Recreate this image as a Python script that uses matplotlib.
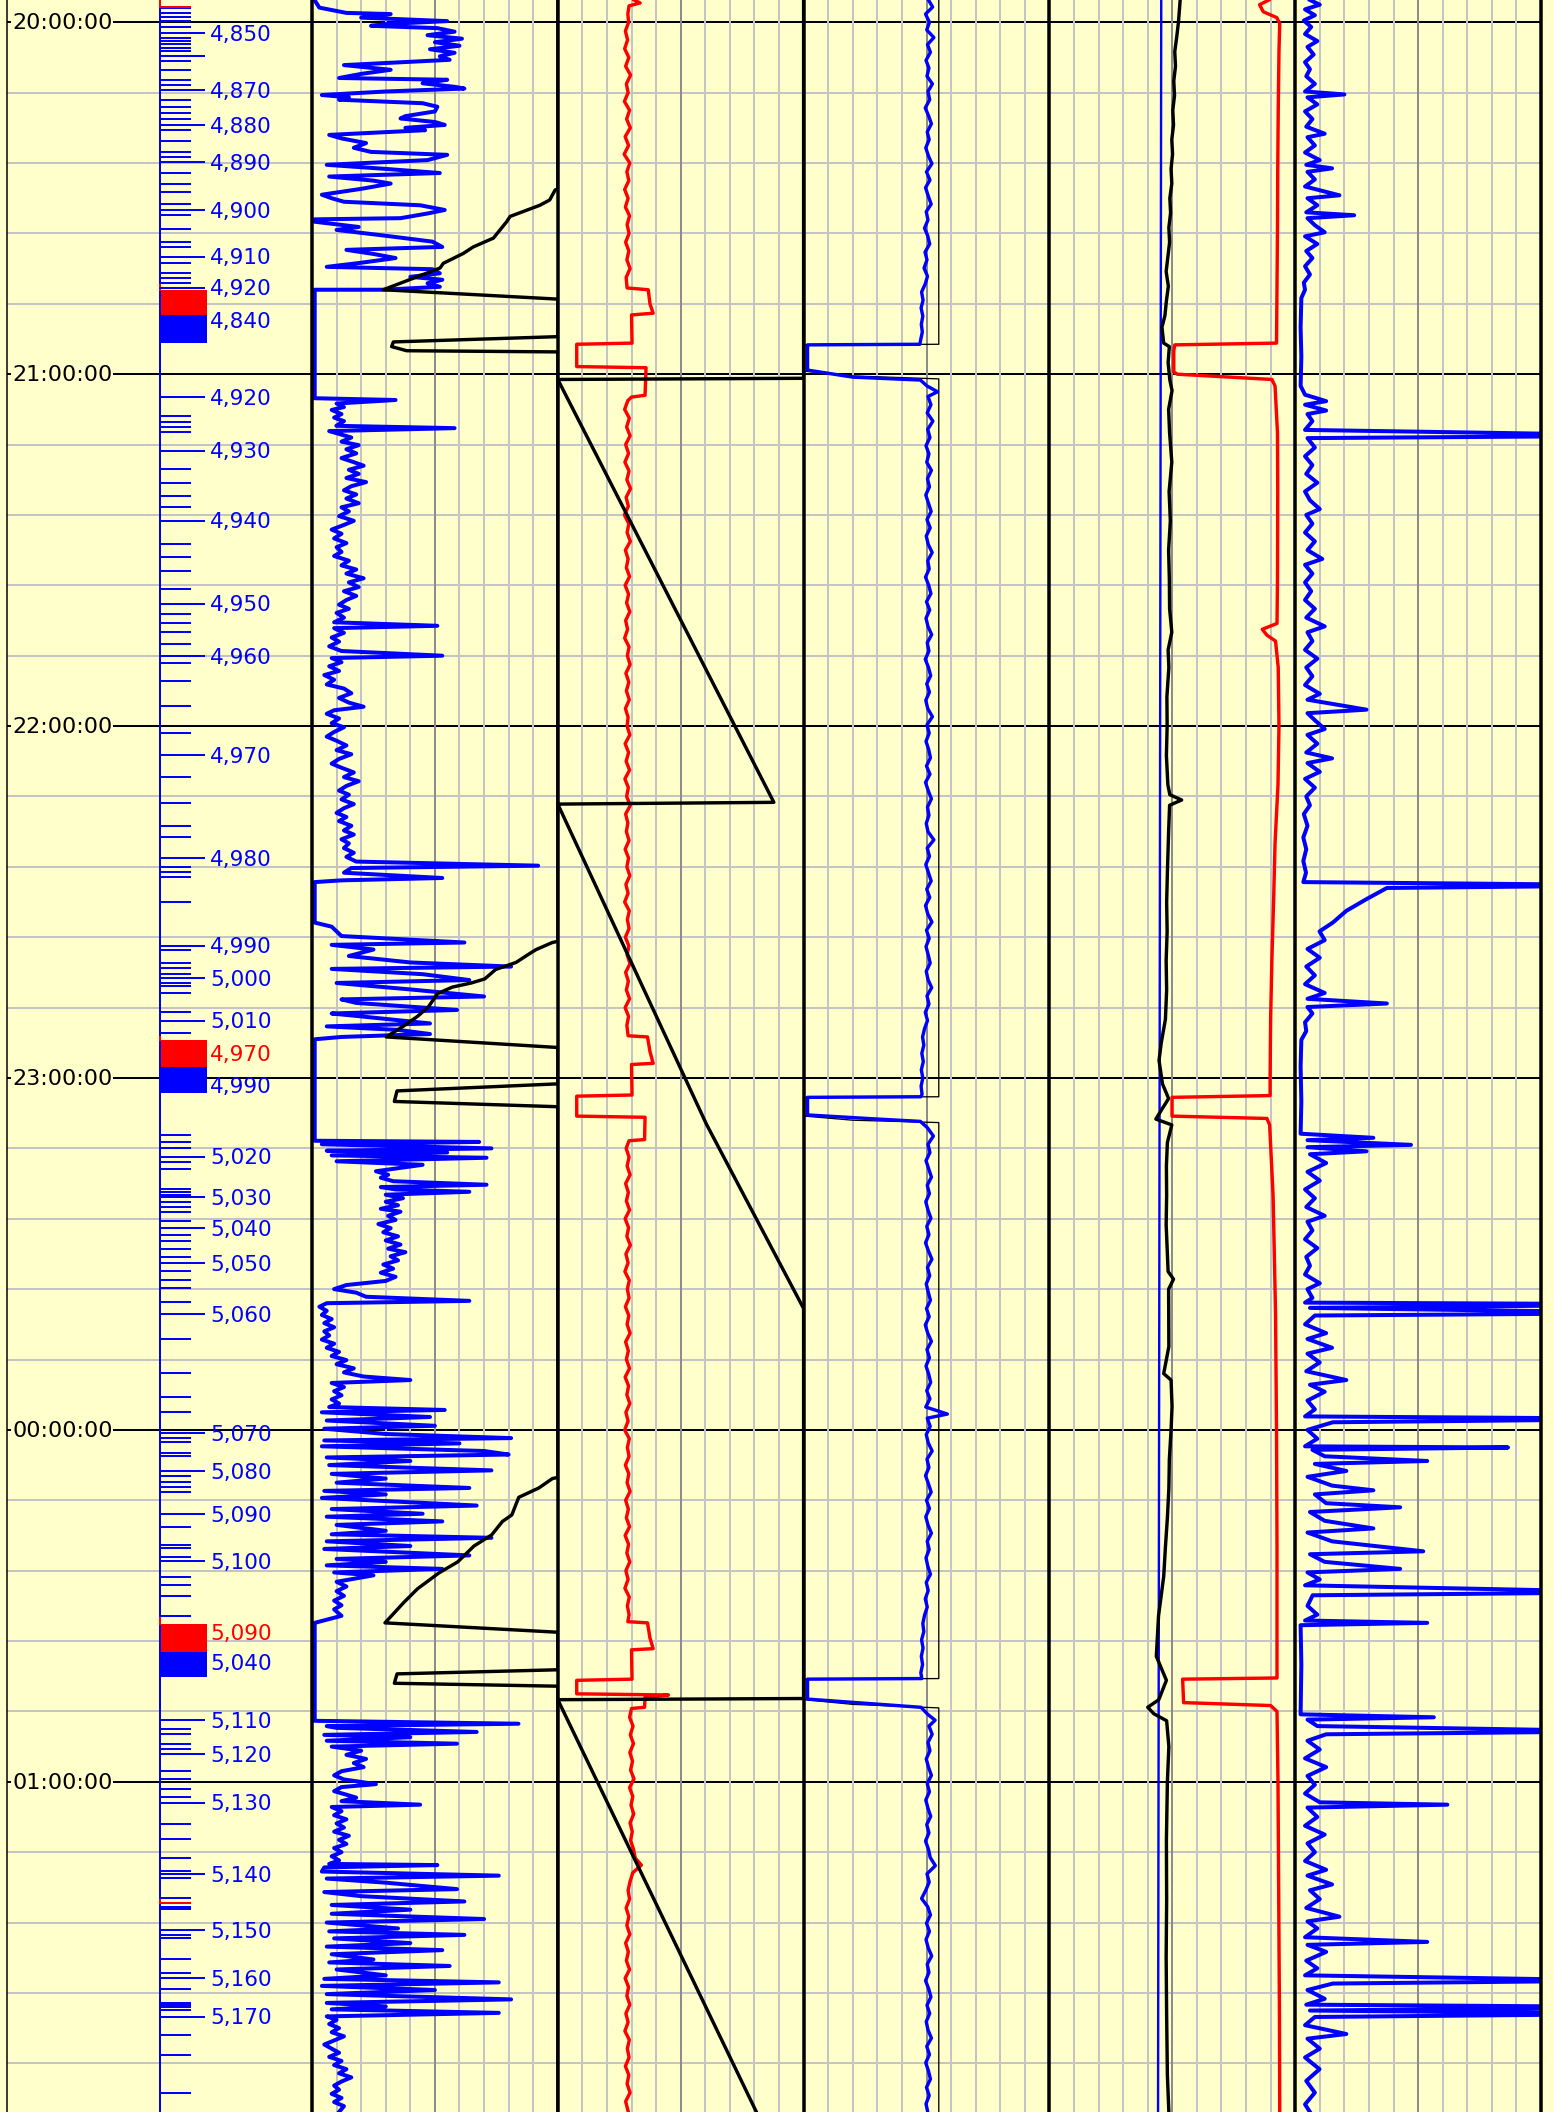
import numpy as np
import matplotlib.pyplot as plt
from matplotlib.patches import Rectangle

# ---- layout (pixels) -------------------------------------------------------
W, H = 1554, 2112
BG = '#ffffcc'
T_TOP, T_BOT = -3.8, 356.3          # minutes after 20:00 at top / bottom
TRACK_X = [312, 557.8, 803.6, 1049.4, 1295.2, 1541]

# ---- time axis -------------------------------------------------------------
hour_min = [0, 60, 120, 180, 240, 300]
hour_lbl = ['20:00:00', '21:00:00', '22:00:00', '23:00:00', '00:00:00', '01:00:00']

# ---- depth track -----------------------------------------------------------
foot_ticks = [-2.39, -1.64, -0.85, -0.17, 0.75, 2.73, 3.19, 3.75, 4.33, 4.89, 6.55, 8.18,
              9.84, 10.74, 13.25, 14.49, 15.52, 16.54, 18.36, 20.24, 22.17, 22.92, 25.69,
              27.62, 28.88, 30.98, 32.86, 35.19, 37.51, 38.36, 41.09, 42.69, 43.55, 44.40,
              67.13, 68.1, 68.95, 69.8, 76.21, 78.5, 80.77, 82.69, 88.95, 91.17, 93.5, 96.57,
              100.84, 102.37, 104.01, 106.0, 109.19, 112.36, 116.57, 121.23, 128.63, 133.17,
              137.04, 138.93, 144.07, 144.93, 145.78, 150.04, 158.18, 160.44, 161.3, 162.32,
              163.75, 164.31, 165.46, 168.7, 172.28,
              189.72, 190.86, 191.99, 194.27, 195.57, 198.98, 199.49, 199.95, 201.09, 201.94,
              202.9, 204.33, 206.77, 207.79, 209.21, 210.47, 212.86, 214.44, 215.86, 218.24,
              224.55, 230.35, 234.34, 236.9, 241.33, 242.01, 243.99, 244.45, 247.86, 248.83,
              249.68, 250.54, 256.5, 259.62, 260.19, 261.62, 265.13, 266.45, 268.32, 271.73,
              291.05, 291.85, 293.56, 294.46, 298.11, 299.57, 301.28, 302.54, 307.25, 309.8,
              313.04, 315.16, 316.45, 319.76, 321.3, 321.74, 326.12, 326.69, 330.27, 332.66,
              335.38, 337.66, 338.11, 338.45, 338.91, 343.17, 346.58, 353.11]
ten_ft_min = [1.88, 5.69, 11.54, 17.51, 23.87, 32.0, 39.97, 45.25, 63.9, 73.04, 84.98,
              99.13, 108.05, 124.93, 142.54, 157.44, 163.0, 170.23, 193.42, 200.34, 205.58,
              211.59, 220.24, 240.58, 247.0, 254.39, 262.35, 289.5, 295.31, 303.56, 315.72,
              325.27, 333.5, 340.05]
ten_ft_lbl = ['4,850', '', '4,870', '4,880', '4,890', '4,900', '4,910', '4,920', '4,920',
              '4,930', '4,940', '4,950', '4,960', '4,970', '4,980', '4,990', '5,000', '5,010',
              '5,020', '5,030', '5,040', '5,050', '5,060', '5,070', '5,080', '5,090', '5,100',
              '5,110', '5,120', '5,130', '5,140', '5,150', '5,160', '5,170']
red_ticks = [-2.66, 320.61]
red_line_spans = [(-3.8, -2.66), (44.4, 45.64), (173.0, 173.52), (271.73, 273.15), (319.76, 320.61)]
trip_up = [(45.64, 49.9), (173.52, 178.18), (273.15, 277.82)]
trip_down = [(49.9, 54.63), (178.18, 182.5), (277.82, 282.18)]
trip_lbl_min = [50.8, 175.8, 181.2, 274.5, 279.6]
trip_lbl = ['4,840', '4,970', '4,990', '5,090', '5,040']
trip_lbl_col = ['blue', 'red', 'blue', 'red', 'blue']

# ---- track 1 ---------------------------------------------------------------
t1_blue = [(-3.8, 1), (-2.5, 3), (-1.6, 14), (-1.4, 32), (-0.8, 20), (-0.2, 55), (0.3, 30),
           (0.6, 24), (1.0, 51), (1.6, 58), (2.2, 47), (2.8, 61), (3.4, 50), (4.0, 60), (4.6, 48),
           (5.2, 58), (5.8, 52), (6.4, 56), (7.3, 13), (7.8, 25), (8.1, 32), (8.8, 20), (9.5, 11),
           (9.8, 55), (10.4, 45), (11.0, 58), (11.3, 62), (11.8, 30), (12.4, 4), (12.8, 15),
           (13.2, 11), (13.8, 45), (14.4, 51), (15.2, 50), (16.0, 38), (16.4, 36), (17.0, 50),
           (17.5, 54), (18.0, 38), (18.4, 46), (19.2, 7), (19.8, 12), (20.6, 22), (21.4, 17),
           (22.1, 24), (22.6, 55), (23.5, 47), (24.3, 6), (25.0, 30), (25.7, 52), (26.3, 7),
           (27.0, 25), (27.5, 32), (28.4, 20), (29.4, 4), (30.0, 8), (30.6, 13), (31.2, 44),
           (32.0, 54), (32.6, 47), (33.4, 36), (33.6, 1), (34.0, 1), (34.9, 19), (35.4, 10),
           (36.4, 30), (37.4, 49), (38.3, 53), (38.8, 14), (39.5, 25), (40.2, 34), (41.0, 20),
           (41.7, 6), (42.1, 49), (42.8, 52), (43.4, 40), (43.9, 53), (44.5, 47), (45.1, 52),
           (45.6, 29), (45.6, 1.1), (64.1, 1.1), (64.4, 34), (65.0, 10), (65.6, 13), (66.1, 8),
           (66.8, 12), (67.4, 9), (68.0, 13), (68.8, 9.9), (69.2, 58), (69.7, 7), (70.3, 12),
           (70.8, 16), (71.5, 12), (72.1, 19), (72.8, 14), (73.5, 18), (74.3, 12), (75.0, 17),
           (75.6, 21), (76.3, 15), (77.0, 19), (77.7, 14), (78.4, 22), (79.1, 16), (79.8, 13),
           (80.5, 18), (81.2, 14), (82.0, 19), (82.7, 12), (83.4, 15), (84.2, 11), (85.0, 17),
           (85.7, 13), (86.5, 8), (87.2, 12), (88.0, 9), (88.8, 14), (89.5, 10), (90.3, 12),
           (91.0, 9), (91.8, 15), (92.6, 12), (93.3, 18), (94.0, 14), (94.8, 21), (95.5, 15),
           (96.3, 19), (97.0, 13), (97.8, 18), (98.5, 14), (99.3, 11), (100.0, 15), (100.7, 10),
           (101.5, 13), (102.3, 9), (102.9, 51), (103.3, 9), (104.1, 13), (104.9, 8), (105.6, 11),
           (106.4, 7), (107.2, 12), (108.0, 53), (108.4, 8), (109.1, 12), (109.8, 7), (110.6, 11),
           (111.3, 5), (112.1, 9), (112.9, 6), (113.6, 13), (114.4, 16), (115.2, 11), (116.0, 15),
           (116.7, 21), (117.3, 9), (117.9, 6), (118.7, 11), (119.5, 8), (120.2, 13), (121.0, 9),
           (121.8, 6), (122.5, 10), (123.3, 14), (124.1, 10), (124.8, 16), (125.6, 11), (126.4, 8),
           (127.1, 12), (127.9, 17), (128.7, 13), (129.4, 19), (130.2, 14), (131.0, 11),
           (131.7, 15), (132.5, 12), (133.3, 17), (134.0, 13), (134.8, 10), (135.5, 14),
           (136.2, 11), (137.0, 16), (137.8, 13), (138.5, 17), (139.3, 12), (140.0, 15),
           (140.8, 13), (141.6, 17), (142.3, 14), (143.1, 18), (143.8, 92), (144.2, 16),
           (145.0, 13), (145.9, 53), (146.3, 12), (146.6, 1.1), (153.5, 1.1), (154.2, 8),
           (155.8, 12), (156.9, 62), (157.3, 8), (158.1, 25), (159.2, 15), (160.3, 40), (161.0, 81),
           (161.4, 8), (162.3, 45), (163.3, 64), (163.8, 10), (164.9, 40), (166.1, 70), (166.6, 12),
           (167.2, 18), (168.4, 59), (169.0, 8), (169.5, 20), (170.7, 48), (171.2, 6), (171.8, 35),
           (172.5, 48), (173.0, 12), (173.4, 1.1), (190.7, 1.1), (190.9, 68), (191.3, 4),
           (192.0, 73), (192.4, 6), (192.7, 55), (193.2, 8), (193.6, 71), (194.2, 10), (194.8, 45),
           (195.9, 26), (196.5, 31), (197.0, 28), (197.6, 33), (198.2, 71), (198.6, 28),
           (199.0, 34), (199.4, 64), (199.9, 30), (200.5, 37), (201.1, 30), (201.7, 35),
           (202.3, 28), (202.8, 36), (203.5, 31), (204.2, 34), (204.9, 27), (205.6, 32),
           (206.3, 29), (207.0, 35), (207.7, 30), (208.4, 36), (209.1, 31), (209.7, 38),
           (210.4, 32), (211.1, 35), (211.8, 29), (212.5, 33), (213.2, 28), (213.9, 34),
           (214.6, 30), (215.3, 14), (216.0, 9), (216.6, 18), (217.3, 22), (218.0, 64), (218.4, 6),
           (219.0, 3), (219.7, 6), (220.4, 4), (221.1, 8), (221.8, 5), (222.5, 9), (223.2, 5),
           (223.9, 7), (224.6, 4), (225.3, 9), (226.0, 6), (226.7, 11), (227.4, 8), (228.1, 14),
           (228.8, 10), (229.5, 17), (230.2, 13), (230.9, 21), (231.5, 40), (232.0, 8), (232.7, 13),
           (233.4, 9), (234.1, 12), (234.8, 8), (235.5, 11), (236.1, 7), (236.6, 54), (237.0, 4),
           (237.8, 48), (238.4, 6), (239.3, 50), (239.8, 5), (240.7, 30), (241.4, 81), (241.8, 5),
           (242.3, 60), (242.8, 4), (243.6, 70), (244.2, 80), (244.7, 6), (245.3, 40), (246.0, 7),
           (246.9, 73), (247.5, 8), (248.3, 30), (249.0, 10), (249.9, 64), (250.4, 5), (251.0, 30),
           (251.6, 4), (252.9, 67), (253.5, 8), (254.3, 45), (254.8, 6), (255.6, 53), (256.2, 10),
           (257.2, 30), (257.8, 8), (258.4, 73), (259.0, 6), (259.8, 40), (260.3, 5), (261.4, 64),
           (262.0, 10), (262.5, 30), (263.1, 6), (263.7, 53), (264.3, 9), (264.8, 25), (265.9, 10),
           (266.7, 14), (267.5, 10), (268.3, 13), (269.1, 9), (269.9, 12), (270.6, 9), (271.7, 12),
           (272.9, 1.1), (289.6, 1.1), (290.1, 84), (290.5, 6), (290.8, 10), (291.5, 67), (292.0, 5),
           (292.4, 40), (293.0, 6), (293.5, 59), (294.0, 8), (294.7, 20), (295.4, 14), (296.1, 22),
           (296.8, 17), (297.5, 21), (298.2, 12), (298.9, 9), (299.6, 13), (300.4, 26), (300.9, 12),
           (301.6, 9), (302.2, 14), (302.7, 18), (303.3, 12), (303.9, 44), (304.3, 8), (305.0, 12),
           (305.7, 9), (306.4, 14), (307.1, 10), (307.8, 13), (308.5, 9), (309.2, 15), (309.9, 11),
           (310.6, 14), (311.3, 9), (312.0, 12), (312.7, 8), (313.4, 11), (314.0, 7), (314.2, 51),
           (314.6, 5), (315.3, 4), (316.0, 76), (316.5, 6), (317.2, 30), (318.3, 59), (318.8, 5),
           (319.5, 20), (320.4, 62), (321.0, 8), (321.8, 40), (322.5, 8), (323.4, 70), (324.0, 6),
           (325.0, 35), (325.5, 7), (326.1, 62), (326.7, 9), (327.5, 40), (328.1, 6), (328.7, 53),
           (329.4, 8), (330.3, 25), (330.8, 7), (331.4, 56), (332.0, 10), (333.0, 30), (333.6, 5),
           (334.2, 76), (334.8, 4), (335.5, 50), (336.2, 6), (337.1, 81), (337.7, 6), (338.3, 30),
           (338.8, 8), (339.4, 76), (340.0, 6), (340.6, 10), (341.3, 7), (342.0, 11), (342.7, 8),
           (343.4, 13), (344.1, 9), (344.8, 5), (345.5, 8), (346.2, 11), (346.9, 7), (347.6, 12),
           (348.3, 9), (349.0, 14), (349.7, 11), (350.4, 16), (351.1, 12), (351.8, 9), (352.5, 11),
           (353.2, 8), (353.9, 12), (354.6, 9), (355.3, 13), (356.3, 11)]
t1_black = [(-3.8, 100), (28.4, 100), (28.6, 98.9), (30.3, 96.7), (31.2, 92.7), (33.1, 80.6),
            (34.0, 79.2), (36.8, 73.8), (38.3, 65.6), (39.4, 61.6), (41.1, 53.4), (41.9, 52.1),
            (45.6, 29.0), (47.2, 100), (53.6, 100), (54.5, 33.1), (55.3, 32.4), (56.0, 38.5),
            (56.2, 100), (156.7, 100), (156.9, 97.8), (158.1, 91.2), (158.8, 88.5), (160.3, 83.0),
            (161.5, 74.7), (163.1, 70.3), (163.8, 64.8), (164.5, 57.1), (165.6, 51.1),
            (167.9, 47.3), (169.5, 42.9), (171.1, 37.4), (173.0, 30.2), (174.8, 100), (181.0, 100),
            (182.2, 34.6), (184.0, 33.5), (184.9, 100), (248.1, 100), (248.3, 97.8), (249.9, 92.3),
            (251.5, 84.1), (254.5, 81.3), (255.6, 77.5), (257.9, 73.1), (259.8, 65.9),
            (262.5, 59.3), (264.4, 51.6), (267.1, 42.9), (269.4, 37.4), (272.9, 29.7),
            (274.5, 100), (280.9, 100), (281.6, 34.6), (283.2, 33.5), (283.7, 100), (356.3, 100)]

# ---- track 2 ---------------------------------------------------------------
t2_red = [(-3.8, 31), (-3.3, 33.5), (-2.8, 29), (-1.5, 28.5), (0, 28.8), (1.5, 27.5), (3, 28.4),
          (4.5, 27.2), (6, 28.9), (7.5, 27.6), (9, 29.6), (10.5, 27.9), (12, 28.6), (13.5, 27.1),
          (15, 29.2), (16.5, 28.0), (18, 29.5), (19.5, 27.4), (21, 28.8), (22.5, 27.0), (24, 29.3),
          (25.5, 28.1), (27, 28.9), (28.5, 27.2), (30, 28.6), (31.5, 27.5), (33, 29.2), (34.5, 28.2),
          (36, 29.0), (37.5, 27.6), (39, 28.9), (40.5, 28.1), (42, 29.4), (43.5, 27.8), (45.3, 28.2),
          (45.6, 36.8), (48, 37.5), (49.6, 38.8), (49.9, 30.0), (54.7, 30.2), (54.9, 7.7),
          (58.7, 7.7), (58.9, 35.9), (63.6, 35.5), (63.9, 30), (64.5, 28.5), (66, 27.2),
          (67.5, 29.1), (69, 28.0), (70.5, 29.4), (72, 27.6), (73.5, 28.8), (75, 27.3), (76.5, 29.0),
          (78, 28.1), (79.5, 29.6), (81, 27.8), (82.5, 28.7), (84, 27.1), (85.5, 28.9), (87, 28.2),
          (88.5, 29.5), (90, 27.5), (91.5, 28.6), (93, 27.9), (94.5, 29.2), (96, 27.4), (97.5, 28.8),
          (99, 28.0), (100.5, 29.3), (102, 27.6), (103.5, 28.4), (105, 27.2), (106.5, 29.0),
          (108, 28.3), (109.5, 29.4), (111, 27.7), (112.5, 28.9), (114, 27.9), (115.5, 29.1),
          (117, 27.5), (118.5, 28.6), (120, 28.2), (121.5, 29.3), (123, 27.4), (124.5, 28.8),
          (126, 27.8), (127.5, 29.2), (129, 27.3), (130.5, 28.7), (132, 28.0), (133.5, 29.5),
          (135, 27.6), (136.5, 28.5), (138, 27.9), (139.5, 29.0), (141, 27.4), (142.5, 28.8),
          (144, 28.1), (145.5, 29.3), (147, 27.7), (148.5, 28.6), (150, 27.2), (151.5, 29.1),
          (153, 28.3), (154.5, 29.0), (156, 27.5), (157.5, 28.9), (159, 28.2), (160.5, 29.4),
          (162, 27.6), (163.5, 28.7), (165, 27.9), (166.5, 29.2), (168, 27.4), (169.5, 28.8),
          (171, 28.1), (172.8, 28.6), (173.0, 36.5), (175.5, 37.5), (177.5, 38.8), (177.7, 30),
          (182.9, 30.2), (183.1, 7.7), (186.5, 7.7), (186.7, 35.5), (190.5, 35.3), (190.7, 29),
          (192, 27.8), (193.5, 29.0), (195, 28.2), (196.5, 29.4), (198, 27.6), (199.5, 28.7),
          (201, 27.9), (202.5, 29.2), (204, 27.4), (205.5, 28.8), (207, 28.1), (208.5, 29.5),
          (210, 27.7), (211.5, 28.6), (213, 27.3), (214.5, 29.1), (216, 28.3), (217.5, 29.0),
          (219, 27.5), (220.5, 28.9), (222, 28.2), (223.5, 29.4), (225, 27.6), (226.5, 28.7),
          (228, 27.9), (229.5, 29.2), (231, 27.4), (232.5, 28.8), (234, 28.1), (235.5, 29.3),
          (237, 27.7), (238.5, 28.6), (240, 27.2), (241.5, 29.1), (243, 28.3), (244.5, 29.0),
          (246, 27.5), (247.5, 28.9), (249, 28.2), (250.5, 29.4), (252, 27.6), (253.5, 28.7),
          (255, 27.9), (256.5, 29.2), (258, 27.4), (259.5, 28.8), (261, 28.1), (262.5, 29.3),
          (264, 27.7), (265.5, 28.6), (267, 27.3), (268.5, 29.1), (270, 28.3), (271.5, 29.0),
          (272.7, 28.5), (272.9, 36.5), (275.5, 37.5), (277.3, 38.8), (277.5, 30), (282.5, 30.2),
          (282.7, 7.7), (285.0, 7.7), (285.2, 45), (285.6, 35.5), (287.3, 35.3), (287.5, 30),
          (289, 29.2), (290.5, 30.6), (292, 29.5), (293.5, 30.8), (295, 29.3), (296.5, 30.4),
          (298, 29.6), (299.5, 31.0), (301, 29.2), (302.5, 30.5), (304, 29.8), (305.5, 30.9),
          (307, 29.4), (308.5, 30.3), (310, 29.6), (311.5, 30.8), (313, 31.5), (314.2, 34.0),
          (315.5, 30.5), (317, 29.4), (318.5, 28.6), (320, 29.2), (321.5, 27.8), (323, 28.9),
          (324.5, 28.1), (326, 29.3), (327.5, 27.6), (329, 28.7), (330.5, 27.9), (332, 29.2),
          (333.5, 27.4), (335, 28.8), (336.5, 28.1), (338, 29.3), (339.5, 27.7), (341, 28.6),
          (342.5, 27.3), (344, 29.1), (345.5, 28.3), (347, 29.0), (348.5, 27.5), (350, 28.9),
          (351.5, 28.2), (353, 29.4), (354.5, 27.6), (356.3, 28.7)]
t2_black = [(-3.8, 100), (60.7, 100), (60.9, 0), (133.0, 87.9), (133.3, 0), (187.9, 60.5),
            (219.3, 100), (285.8, 100), (286.0, 0), (356.3, 80.8)]

# ---- track 3 ---------------------------------------------------------------
t3_blue = [(-3.8, 50.8), (-2.6, 52.5), (-1.4, 49.6), (0.0, 51.2), (1.3, 50.1), (2.6, 53.0),
           (3.8, 50.4), (5.1, 51.6), (6.5, 49.8), (7.8, 51.0), (9.2, 50.2), (10.5, 52.4),
           (11.8, 50.6), (13.2, 51.3), (14.6, 49.5), (16.0, 50.9), (17.3, 52.0), (18.7, 50.3),
           (20.0, 51.1), (21.4, 49.7), (22.8, 50.8), (24.1, 52.2), (25.5, 50.0), (26.9, 51.4),
           (28.2, 49.6), (29.6, 50.7), (31.0, 51.9), (32.3, 49.9), (33.7, 50.6), (35.1, 49.2),
           (36.4, 50.5), (37.8, 51.3), (39.2, 49.4), (40.5, 50.2), (41.9, 49.0), (43.3, 50.4),
           (44.6, 49.5), (46.0, 48.0), (47.4, 48.6), (48.7, 47.8), (50.1, 48.5), (51.5, 47.9),
           (52.8, 48.3), (54.2, 47.6), (54.9, 47.3), (55.0, 1.6), (59.3, 1.6), (60.5, 20.0),
           (61.0, 47.5), (62.0, 50.2), (63.0, 54.5), (63.8, 50.6), (65.2, 51.8), (66.6, 50.3),
           (68.0, 52.6), (69.4, 50.5), (70.8, 51.4), (72.2, 49.8), (73.6, 51.0), (75.0, 50.1),
           (76.4, 52.0), (77.8, 50.4), (79.2, 51.2), (80.6, 49.7), (82.0, 50.8), (83.4, 51.9),
           (84.8, 50.2), (86.2, 51.5), (87.6, 49.9), (89.0, 50.7), (90.4, 52.3), (91.8, 50.5),
           (93.2, 51.1), (94.6, 49.6), (96.0, 50.9), (97.4, 51.8), (98.8, 50.0), (100.2, 51.3),
           (101.6, 49.8), (103.0, 50.6), (104.4, 52.1), (105.8, 50.3), (107.2, 51.0), (108.6, 49.5),
           (110.0, 50.8), (111.4, 51.7), (112.8, 50.1), (114.2, 51.2), (115.6, 49.7), (117.0, 50.5),
           (118.4, 52.4), (119.8, 50.2), (121.2, 51.1), (122.6, 49.8), (124.0, 50.9), (125.4, 51.6),
           (126.8, 50.0), (128.2, 51.4), (129.6, 49.6), (131.0, 50.7), (132.4, 52.0), (133.8, 50.4),
           (135.2, 51.0), (136.6, 49.9), (138.0, 50.6), (139.4, 53.0), (140.8, 50.3), (142.2, 51.2),
           (143.6, 49.7), (145.0, 50.8), (146.4, 51.9), (147.8, 50.1), (149.2, 51.3), (150.6, 49.6),
           (152.0, 50.5), (153.4, 52.2), (154.8, 50.0), (156.2, 51.1), (157.6, 49.8), (159.0, 50.7),
           (160.4, 51.5), (161.8, 49.9), (163.2, 50.6), (164.6, 52.1), (166.0, 50.2), (167.4, 51.0),
           (168.8, 49.5), (170.2, 50.4), (171.6, 49.2), (173.0, 48.4), (174.4, 48.9), (175.8, 48.1),
           (177.2, 48.7), (178.6, 47.9), (180.0, 48.5), (181.4, 47.8), (182.8, 48.2), (183.2, 47.6),
           (183.3, 1.6), (186.3, 1.6), (187.0, 30.0), (187.4, 47.5), (188.5, 50.4), (189.9, 52.8),
           (191.3, 50.6), (192.7, 51.4), (194.1, 49.8), (195.5, 50.9), (196.9, 52.0), (198.3, 50.3),
           (199.7, 51.2), (201.1, 49.7), (202.5, 50.6), (203.9, 51.8), (205.3, 50.1), (206.7, 51.0),
           (208.1, 49.6), (209.5, 50.8), (210.9, 52.2), (212.3, 50.4), (213.7, 51.3), (215.1, 49.9),
           (216.5, 50.7), (217.9, 51.6), (219.3, 50.0), (220.7, 51.1), (222.1, 49.5), (223.5, 50.5),
           (224.9, 52.0), (226.3, 50.2), (227.7, 51.2), (229.1, 49.8), (230.5, 50.9), (231.9, 51.7),
           (233.3, 50.1), (234.7, 51.4), (236.1, 49.7), (237.3, 58.5), (238.0, 50.3), (239.4, 51.5),
           (240.8, 49.9), (242.2, 50.7), (243.6, 52.3), (245.0, 50.2), (246.4, 51.0), (247.8, 49.6),
           (249.2, 50.8), (250.6, 51.9), (252.0, 50.0), (253.4, 51.2), (254.8, 49.7), (256.2, 50.6),
           (257.6, 52.0), (259.0, 50.3), (260.4, 51.1), (261.8, 49.8), (263.2, 50.5), (264.6, 51.6),
           (266.0, 49.9), (267.4, 50.7), (268.8, 49.5), (270.2, 50.3), (271.6, 49.2), (273.0, 48.5),
           (274.4, 48.9), (275.8, 48.0), (277.2, 48.6), (278.6, 47.9), (280.0, 48.4), (281.4, 47.7),
           (282.4, 48.1), (282.5, 1.6), (285.9, 1.6), (286.6, 25.0), (287.3, 47.8), (288.5, 50.5),
           (289.5, 53.5), (290.5, 51.0), (291.9, 52.3), (293.3, 50.6), (294.7, 51.4), (296.1, 49.9),
           (297.5, 50.8), (298.9, 52.0), (300.3, 50.3), (301.7, 51.2), (303.1, 49.7), (304.5, 50.6),
           (305.9, 51.7), (307.3, 50.1), (308.7, 51.0), (310.1, 49.6), (311.5, 50.8), (312.9, 51.5),
           (314.3, 53.6), (315.7, 50.2), (317.1, 51.1), (318.5, 49.7), (319.9, 48.0), (321.3, 50.5),
           (322.7, 51.6), (324.1, 50.0), (325.5, 51.2), (326.9, 49.8), (328.3, 50.7), (329.7, 52.1),
           (331.1, 50.3), (332.5, 51.0), (333.9, 49.6), (335.3, 50.9), (336.7, 51.8), (338.1, 50.2),
           (339.5, 51.3), (340.9, 49.9), (342.3, 50.6), (343.7, 52.0), (345.1, 50.1), (346.5, 51.2),
           (347.9, 49.7), (349.3, 50.8), (350.7, 51.6), (352.1, 50.0), (353.5, 51.1), (354.9, 49.8),
           (356.3, 50.5)]
t3_black = [(-3.8, 55), (54.9, 55), (55.0, 0.5), (59.5, 0.5), (60.3, 20), (60.8, 55),
            (183.2, 55), (183.3, 0.5), (186.5, 0.5), (187.2, 20), (187.6, 55), (282.4, 55),
            (282.5, 0.5), (286.0, 0.5), (286.8, 20), (287.4, 55), (356.3, 55)]

# ---- track 4 ---------------------------------------------------------------
t4_blue = [(-3.8, 45.5), (356.3, 44.2)]
t4_black = [(-3.8, 53.2), (0.0, 52.5), (2.5, 51.8), (5, 51.0), (7.5, 51.3), (10, 50.6),
            (12.5, 50.9), (15, 50.2), (17.5, 50.5), (20, 49.8), (22.5, 50.1), (25, 49.5),
            (27.5, 49.8), (30, 49.0), (32.5, 49.3), (35, 48.6), (37.5, 48.9), (40, 48.2),
            (42.5, 47.5), (45, 48.4), (47.5, 47.6), (50, 47.0), (52, 45.8), (54.7, 46.5),
            (55.3, 48.8), (58, 48.3), (61, 49.0), (62.8, 49.9), (66, 48.5), (70, 48.9), (75, 49.8),
            (80, 48.7), (85, 49.2), (90, 48.5), (95, 48.8), (100, 48.9), (104, 49.8), (107, 48.3),
            (110, 48.6), (115, 47.8), (120, 47.9), (125, 47.6), (130, 48.2), (131.7, 49.0),
            (132.6, 53.8), (133.5, 48.9), (138, 48.5), (145, 48.0), (150, 47.7), (155, 47.9),
            (160, 47.5), (165, 47.7), (170, 47.2), (174, 45.5), (177, 44.6), (181, 46.0),
            (183.5, 48.5), (187, 43.3), (188, 49.8), (191, 48.0), (195, 47.6), (200, 47.7),
            (205, 47.5), (213, 48.3), (214.3, 50.5), (216, 48.5), (225.8, 48.6), (230.4, 46.5),
            (231.5, 49.5), (236, 49.9), (240, 49.5), (245, 48.8), (250, 48.6), (255, 48.0),
            (260, 47.2), (265, 46.5), (271.7, 44.4), (278.6, 43.5), (282.7, 47.6), (286, 44.5),
            (287.3, 40.0), (288.4, 42.5), (289.6, 47.7), (294, 48.6), (300, 48.0), (310, 47.6),
            (320, 47.7), (330, 47.5), (340, 47.7), (350, 48.0), (356.3, 48.6)]
t4_red = [(-3.8, 89.3), (-3.0, 85.5), (-1.8, 87.0), (-0.8, 92.5), (0.2, 93.7), (5, 93.4),
          (15, 93.1), (25, 92.9), (35, 92.8), (45, 92.6), (50, 92.5), (54.7, 92.4), (55.0, 51.0),
          (56, 50.6), (59.6, 50.6), (60.0, 52), (60.9, 90.5), (62, 91.8), (70, 92.8), (80, 92.9),
          (95, 92.8), (102.5, 92.6), (103.5, 86.6), (104.5, 88.5), (105.5, 92.0), (110, 93.1),
          (120, 93.4), (130, 93.0), (140, 91.8), (150, 91.2), (160, 90.5), (170, 90.0),
          (180, 89.8), (183.0, 89.8), (183.3, 49.9), (186.5, 49.9), (186.9, 88.5), (188, 89.6),
          (200, 91.0), (220, 92.0), (240, 92.4), (260, 92.6), (282.3, 92.6), (282.5, 54.2),
          (286.5, 54.6), (287.0, 90.0), (288, 92.6), (300, 93.0), (320, 93.3), (340, 93.6),
          (356.3, 93.7)]

# ---- track 5 ---------------------------------------------------------------
t5_blue = [(-3.8, 6), (-3.0, 10), (-2.2, 4), (-1.2, 8), (-0.3, 3.5), (0.8, 6.5), (2.0, 4),
           (3.2, 9), (4.2, 5), (5.5, 7.5), (6.8, 4), (8.0, 6), (9.2, 4.5), (10.5, 8), (11.8, 4),
           (12.3, 20), (12.8, 5), (14.0, 9), (15.2, 4), (16.5, 7), (17.8, 4.5), (19.0, 12),
           (19.6, 5), (21.0, 8), (22.2, 4), (23.5, 10), (24.3, 4.5), (24.9, 15), (25.5, 5),
           (26.8, 8), (28.0, 4), (29.5, 18), (30.0, 5), (31.2, 9), (32.4, 4.5), (32.9, 24),
           (33.4, 5), (34.6, 8), (35.8, 12), (36.5, 4), (37.8, 9), (39.0, 4.5), (40.2, 7),
           (41.6, 4), (43.0, 6), (44.4, 3.5), (45.6, 4), (47, 2.5), (52, 2.2), (57, 2.5), (62, 2.2),
           (63.5, 4), (64.6, 12.6), (65.2, 4), (66.2, 12.6), (66.8, 5), (68.0, 7), (69.5, 4),
           (70.2, 110), (70.6, 110), (70.9, 5), (72.5, 8), (74.0, 4), (75.5, 7), (77.0, 4.5),
           (78.5, 9), (80.0, 4), (81.5, 6), (83.0, 10), (84.0, 4.5), (85.5, 7), (87.0, 4),
           (88.5, 8), (90.0, 5), (91.5, 11), (92.5, 4), (94.0, 7), (95.5, 4), (97.0, 6.5),
           (98.5, 4), (100.0, 8), (101.5, 4.5), (103.0, 12), (104.0, 5), (105.5, 7), (107.0, 4),
           (108.5, 9), (110.0, 4.5), (111.5, 7), (113.0, 4), (114.5, 10), (115.5, 5), (117.2, 29),
           (117.8, 5), (119.0, 8), (120.5, 12), (121.5, 5), (123.0, 9), (124.5, 4.5), (125.5, 15),
           (126.3, 5), (127.8, 10), (129.0, 4), (130.5, 8), (132.0, 4.5), (133.5, 6), (135.0, 3.5),
           (137.0, 5), (139.0, 3.3), (141.0, 4.5), (143.0, 3.3), (145.0, 4.4), (146.6, 3.3),
           (147.0, 110), (147.3, 110), (147.6, 37.3), (149.5, 29), (151.5, 20.8), (153.5, 15.3),
           (155.0, 9.9), (156.5, 12), (158.0, 5), (159.5, 10), (161.0, 4.5), (162.5, 8), (164.0, 4),
           (165.5, 12), (166.5, 5), (167.3, 37.3), (167.9, 5), (169.0, 7), (170.5, 4), (172.0, 4.5),
           (173.5, 2.5), (178, 2.2), (184, 2.5), (189.5, 2.2), (190.2, 31.8), (190.6, 5),
           (191.4, 47.1), (191.8, 5), (192.5, 29), (193.0, 6), (194.5, 12.6), (196.0, 5),
           (197.5, 10), (199.0, 4), (200.5, 8), (202.0, 4.5), (203.5, 12), (204.5, 5), (206.0, 7),
           (207.5, 4), (209.0, 9), (210.5, 4.5), (212.0, 6), (213.5, 4), (215.0, 10), (216.0, 5),
           (217.5, 7), (218.3, 4), (218.5, 110), (218.8, 110), (219.2, 6), (219.8, 110),
           (220.2, 110), (220.5, 8), (222.0, 4), (223.5, 12.6), (224.5, 5), (226.0, 15), (227.0, 5),
           (228.5, 10), (230.0, 4.5), (231.5, 20.8), (232.3, 6), (233.5, 12), (235.0, 5),
           (236.5, 8), (237.7, 4), (238.0, 110), (238.3, 110), (238.7, 15.3), (240.0, 5),
           (241.5, 9), (242.8, 4), (243.0, 86.6), (243.4, 7), (244.5, 12), (245.3, 53.7),
           (245.8, 8), (247.0, 20.8), (248.0, 5), (249.5, 15), (250.3, 31.8), (251.0, 8),
           (252.5, 12.6), (253.2, 42.7), (254.0, 6), (255.5, 12), (256.8, 31.8), (257.5, 5),
           (259.0, 15), (260.7, 52.1), (261.2, 6), (262.5, 12), (263.7, 42.7), (264.3, 5),
           (265.5, 10), (266.5, 4), (267.4, 110), (267.8, 110), (268.2, 7.1), (270.0, 5),
           (271.5, 9), (272.5, 4), (272.9, 53.7), (273.3, 2.2), (280, 2.5), (288.5, 2.2),
           (289.0, 56.4), (289.4, 5), (290.5, 9), (291.2, 110), (291.5, 110), (291.9, 12.6),
           (293.0, 5), (294.5, 10), (296.0, 4), (297.5, 12.6), (299.0, 5), (300.5, 8), (302.0, 4),
           (303.5, 10), (303.9, 61.9), (304.4, 5), (306.0, 9), (307.5, 4), (309.0, 12), (310.5, 5),
           (312.0, 8), (313.5, 4), (315.0, 12.6), (316.0, 5), (317.5, 15), (318.5, 6), (320.0, 10),
           (321.5, 4.5), (323.0, 18), (323.8, 5), (325.0, 9), (326.5, 4), (327.3, 53.7),
           (327.8, 5), (329.0, 12.6), (330.5, 4.5), (331.8, 9), (333.0, 4), (333.7, 110),
           (334.0, 110), (334.4, 15.3), (335.5, 5), (337.0, 12), (338.0, 4.5), (338.3, 110),
           (338.6, 110), (339.0, 6), (339.4, 110), (339.7, 110), (340.1, 8), (341.5, 4),
           (343.0, 20.8), (343.8, 5), (345.5, 10), (347.0, 4), (349.0, 9.9), (351.0, 4.5),
           (353.0, 8), (355.0, 4), (356.3, 6)]


def px(v):
    return v / 100 * 72          # pixels -> points at 100 dpi


plt.rcParams['hatch.linewidth'] = 0.6
fig = plt.figure(figsize=(W / 100, H / 100), dpi=100)
fig.patch.set_facecolor(BG)


def add_ax(x0, x1, xlim, z):
    ax = fig.add_axes([x0 / W, 0, (x1 - x0) / W, 1], zorder=z)
    ax.set_xlim(*xlim)
    ax.set_ylim(T_BOT, T_TOP)
    ax.axis('off')
    return ax


# background: horizontal time grid across the whole log
bg = add_ax(0, W, (0, W), 0)
grid_min = [m for m in range(0, 357, 12) if m % 60]
bg.hlines(grid_min, 7, TRACK_X[-1], color='#c4c4c4', lw=px(2))
bg.hlines(hour_min, 7, TRACK_X[-1], color='black', lw=px(2))
bg.axvline(7, color='black', lw=px(1.5))

# depth track
dax = add_ax(0, TRACK_X[0], (0, TRACK_X[0]), 1)
dax.axvline(159.5, color='blue', lw=px(2))
for a, b in red_line_spans:
    dax.plot([159.5, 159.5], [a, b], color='red', lw=px(2))
dax.hlines(foot_ticks, 159, 190.5, color='blue', lw=px(2))
dax.hlines(red_ticks, 159, 190.5, color='red', lw=px(2))
dax.hlines(ten_ft_min, 159, 205, color='blue', lw=px(2))
for m, s in zip(ten_ft_min, ten_ft_lbl):
    dax.text(210, m + 0.3, s, color='blue', fontsize=15.5, va='center', ha='left')
for spans, col in [(trip_up, 'red'), (trip_down, 'blue')]:
    for a, b in spans:
        dax.add_patch(Rectangle((159, a), 32, b - a, facecolor=col, edgecolor='none'))
        dax.add_patch(Rectangle((191, a), 16, b - a, facecolor='none', edgecolor=col,
                                hatch='-' * 28, lw=0))
for m, s, c in zip(trip_lbl_min, trip_lbl, trip_lbl_col):
    dax.text(210, m + 0.3, s, color=c, fontsize=15.5, va='center', ha='left')
for m, s in zip(hour_min, hour_lbl):
    dax.text(12, m + 0.2, s, color='black', fontsize=16, va='center', ha='left',
             bbox=dict(facecolor=BG, edgecolor='none', pad=0.5))

# curve tracks
tracks = [
    [(t1_blue, 'blue', 4.0), (t1_black, 'black', 3.4)],
    [(t2_red, 'red', 3.4), (t2_black, 'black', 3.4)],
    [(t3_black, 'black', 1.3), (t3_blue, 'blue', 3.4)],
    [(t4_blue, 'blue', 2.4), (t4_black, 'black', 3.4), (t4_red, 'red', 3.4)],
    [(t5_blue, 'blue', 4.0)],
]
for i, curves in enumerate(tracks):
    ax = add_ax(TRACK_X[i], TRACK_X[i + 1], (0, 100), 2)
    for g in range(10, 100, 10):
        ax.axvline(g, color='#8c8c8c' if g == 50 else '#c4c4c4', lw=px(2), zorder=0)
    for pts, col, lw in curves:
        t, v = np.array(pts).T
        ax.plot(v, t, color=col, lw=px(lw), solid_joinstyle='round', zorder=2)

# track borders on top
top = add_ax(0, W, (0, W), 3)
top.vlines(TRACK_X, T_TOP, T_BOT, color='black', lw=px(3.5))

fig.savefig('out.png', dpi=100, facecolor=BG)
